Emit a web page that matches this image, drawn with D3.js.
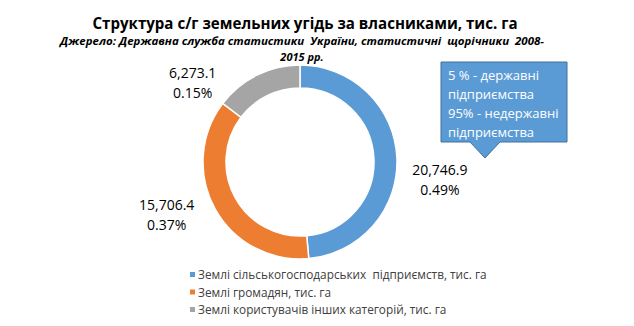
<!DOCTYPE html>
<html>
<head>
<meta charset="utf-8">
<script src="https://cdn.jsdelivr.net/npm/d3@7/dist/d3.min.js"></script>
<style>
  html, body { margin: 0; padding: 0; background: #fff; }
  svg { display: block; font-family: "Open Sans", "Liberation Sans", sans-serif; }
</style>
</head>
<body>
<svg id="chart" width="634" height="326"></svg>
<script>
// Land ownership structure, thousand ha
const categories = [
  "Землі сільськогосподарських  підприємств, тис. га",
  "Землі громадян, тис. га",
  "Землі користувачів інших категорій, тис. га"
];
const values = [20746.9, 15706.4, 6273.1];
const shareLabels = ["0.49%", "0.37%", "0.15%"];
const colors = ["#5B9BD5", "#ED7D31", "#A5A5A5"];
const calloutLines = ["5 % - державні", "підприємства", "95% - недержавні", "підприємства"];

const svg = d3.select("#chart");

// Title and source
svg.append("text")
  .attr("x", 305).attr("y", 29)
  .attr("text-anchor", "middle")
  .attr("font-size", 16.5).attr("font-weight", "bold")
  .attr("textLength", 425).attr("lengthAdjust", "spacingAndGlyphs")
  .attr("fill", "#000")
  .text("Структура с/г земельних угідь за власниками, тис. га");

svg.append("text")
  .attr("x", 302).attr("y", 45)
  .attr("text-anchor", "middle")
  .attr("font-size", 11).attr("font-weight", "bold").attr("font-style", "italic")
  .attr("textLength", 484).attr("lengthAdjust", "spacingAndGlyphs")
  .attr("fill", "#000")
  .attr("xml:space", "preserve")
  .text("Джерело: Державна служба статистики  України, статистичні  щорічники  2008-");

svg.append("text")
  .attr("x", 302).attr("y", 61)
  .attr("text-anchor", "middle")
  .attr("font-size", 11).attr("font-weight", "bold").attr("font-style", "italic")
  .attr("fill", "#000")
  .text("2015 рр.");

// Donut
const cx = 300, cy = 162, rOuter = 97, rInner = 74;
const pie = d3.pie().sort(null).value(d => d)(values);
const arc = d3.arc().innerRadius(rInner).outerRadius(rOuter);

const g = svg.append("g").attr("transform", `translate(${cx},${cy})`);
g.selectAll("path")
  .data(pie)
  .join("path")
  .attr("d", arc)
  .attr("fill", (d, i) => colors[i])
  .attr("stroke", "#fff")
  .attr("stroke-width", 1.5);

// Data labels placed outside the ring, nudged clear of the callout and title
const fmt = d3.format(",.1f");
const labelArc = d3.arc().innerRadius(rOuter + 52).outerRadius(rOuter + 52);
const labelOffsets = [[-9, 20], [-3, -24], [-41, 49]];
pie.forEach((d, i) => {
  const [lx, ly] = labelArc.centroid(d);
  const t = g.append("text")
    .attr("text-anchor", "middle")
    .attr("font-size", 14)
    .attr("fill", "#000")
    .attr("transform", `translate(${lx + labelOffsets[i][0]},${ly + labelOffsets[i][1]})`);
  t.append("tspan").attr("x", 0).attr("y", 0).text(fmt(d.data));
  t.append("tspan").attr("x", 0).attr("y", 20).text(shareLabels[i]);
});

// Callout box
const bx = 441, by = 62, bw = 126, bh = 80;
const tipX = 485, tipY = 158;
svg.append("path")
  .attr("d", `M${bx},${by} H${bx + bw} V${by + bh} H${tipX + 15} L${tipX},${tipY} L${tipX - 15},${by + bh} H${bx} Z`)
  .attr("fill", "#5B9BD5")
  .attr("stroke", "#41719C")
  .attr("stroke-width", 1);

svg.append("g").selectAll("text")
  .data(calloutLines)
  .join("text")
  .attr("x", bx + 7)
  .attr("y", (d, i) => by + 18 + i * 19)
  .attr("font-size", 13)
  .attr("fill", "#fff")
  .text(d => d);

// Legend
const legend = svg.append("g");
categories.forEach((c, i) => {
  const y = 275 + i * 17.5;
  legend.append("rect")
    .attr("x", 190).attr("y", y - 3)
    .attr("width", 5).attr("height", 5)
    .attr("fill", colors[i]);
  legend.append("text")
    .attr("x", 198).attr("y", y + 4)
    .attr("font-size", 11.8)
    .attr("fill", "#404040")
    .attr("xml:space", "preserve")
    .text(c);
});
</script>
</body>
</html>
